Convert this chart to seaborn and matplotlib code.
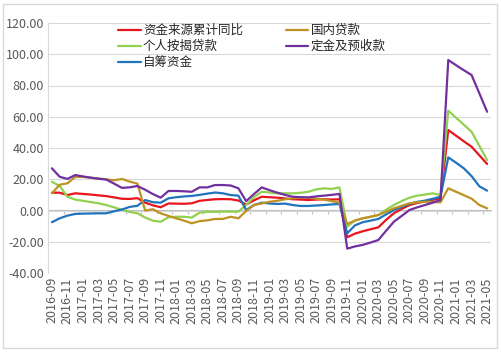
import numpy as np
import pandas as pd
import matplotlib
matplotlib.use('Agg')
import matplotlib.pyplot as plt
from matplotlib.patches import Rectangle
from matplotlib.ticker import FormatStrFormatter
import seaborn as sns

# monthly periods 2016-09 .. 2021-05
months = pd.period_range('2016-09', '2021-05', freq='M').strftime('%Y-%m').tolist()

# 资金来源累计同比 (%)
total_yoy = [11.4, 11.4, 9.9, 11.0, 10.6, 10.2, 9.7, 9.2, 8.4, 7.5, 7.4, 7.9,
             5.0, 3.3, 2.1, 4.5, 4.4, 4.3, 4.6, 6.2, 6.7, 7.2, 7.3, 7.2,
             6.4, 3.8, 6.5, 8.8, 8.5, 8.2, 7.7, 7.2, 7.0, 6.7, 7.0, 7.2,
             7.0, 7.2, -17.1, -14.8, -13.3, -12.0, -10.8, -6.0, -1.8, 1.0, 3.5, 4.8,
             5.8, 6.8, 7.8, 51.5, 47.9, 44.3, 40.8, 35.3, 29.8]
# 国内贷款
domestic_loan = [11.0, 16.5, 17.4, 21.5, 21.5, 21.0, 20.5, 20.0, 19.3, 20.2, 18.5, 17.2,
                 0.0, 0.8, -1.8, -3.5, -5.0, -6.5, -8.2, -6.8, -6.3, -5.4, -5.4, -4.0,
                 -5.0, -0.3, 3.5, 4.5, 5.6, 6.2, 7.2, 7.8, 8.2, 8.2, 7.5, 7.0,
                 6.0, 5.0, -8.6, -6.5, -5.0, -4.0, -2.9, -0.8, 1.4, 3.0, 4.6, 5.2,
                 5.6, 5.5, 5.2, 14.2, 12.0, 9.8, 7.6, 3.5, 1.4]
# 个人按揭贷款
mortgage = [18.4, 15.7, 8.8, 7.0, 6.2, 5.4, 4.6, 3.5, 2.0, 0.5, -0.9, -1.8,
            -4.5, -6.5, -7.2, -4.3, -4.0, -4.0, -4.5, -1.4, -0.8, -0.9, -0.7, -0.7,
            -0.7, 3.5, 8.5, 12.0, 11.5, 11.0, 11.0, 11.0, 11.3, 12.0, 13.5, 14.2,
            13.8, 14.8, -10.4, -6.3, -5.0, -4.0, -2.9, 0.5, 3.5, 6.0, 8.2, 9.5,
            10.2, 11.0, 9.9, 63.9, 59.4, 54.9, 50.4, 41.4, 32.3]
# 定金及预收款
deposits = [27.0, 21.6, 20.2, 22.7, 21.8, 21.0, 20.3, 19.8, 17.2, 14.5, 14.8, 15.7,
            13.3, 10.5, 8.2, 12.5, 12.5, 12.3, 12.0, 14.8, 14.8, 16.3, 16.3, 16.0,
            14.2, 6.0, 10.5, 14.8, 13.0, 11.4, 10.0, 8.8, 8.5, 8.4, 9.0, 9.5,
            10.0, 10.6, -24.4, -23.0, -22.0, -20.5, -18.9, -13.0, -7.2, -3.5, 0.3, 2.0,
            3.5, 5.0, 6.7, 96.3, 93.0, 89.8, 86.7, 75.0, 63.2]
# 自筹资金
self_raised = [-7.5, -5.0, -3.3, -2.2, -2.0, -1.9, -1.8, -1.8, -0.5, 0.6, 2.3, 3.0,
               6.7, 5.3, 5.0, 7.8, 8.5, 9.0, 9.3, 10.0, 10.8, 11.5, 11.0, 9.9,
               9.5, 0.3, 3.5, 5.0, 4.5, 4.2, 4.4, 3.5, 2.9, 2.9, 3.2, 3.5,
               3.9, 4.2, -14.6, -9.5, -7.5, -6.5, -5.4, -2.5, 0.3, 2.3, 4.2, 5.5,
               6.3, 7.5, 8.8, 34.0, 30.6, 27.0, 22.0, 15.5, 12.7]

series = {'资金来源累计同比': total_yoy, '个人按揭贷款': mortgage, '自筹资金': self_raised,
          '国内贷款': domestic_loan, '定金及预收款': deposits}
colors = {'资金来源累计同比': '#E8141E', '个人按揭贷款': '#92D050', '自筹资金': '#1F74BC',
          '国内贷款': '#BF9224', '定金及预收款': '#7030A0'}

df = pd.DataFrame({'month': months, **series}).melt(id_vars='month', var_name='item', value_name='yoy')

sns.set_style('white')
plt.rcParams['font.family'] = ['Noto Sans CJK SC', 'DejaVu Sans']

fig = plt.figure(figsize=(5.01, 3.52), dpi=100)
ax = fig.add_axes([48/501, 1-273/352, (491-48)/501, (273-23)/352])

sns.lineplot(data=df, x='month', y='yoy', hue='item', hue_order=list(series.keys()),
             palette=colors, linewidth=1.6, ax=ax, sort=False)

ax.set_ylim(-40, 120)
ax.set_yticks(np.arange(-40, 121, 20))
ax.yaxis.set_major_formatter(FormatStrFormatter('%.2f'))
ax.set_xlim(-0.5, len(months) - 0.5)
ax.set_xticks(range(0, len(months), 2))
ax.set_xticklabels(months[::2], rotation=90)
ax.tick_params(axis='both', colors='#595959', labelsize=9, length=0, pad=3)
ax.set_xlabel('')
ax.set_ylabel('')
ax.grid(axis='y', color='#D9D9D9', linewidth=0.8)
ax.set_axisbelow(True)
for s in ['top', 'right', 'bottom']:
    ax.spines[s].set_visible(False)
ax.spines['left'].set_color('#D9D9D9')
ax.spines['left'].set_linewidth(0.8)

# category axis crossing at zero with small tick marks
sec = ax.secondary_xaxis(0.25)
sec.set_xticks(np.arange(-0.5, len(months), 2))
sec.tick_params(length=3, color='#BFBFBF', labelbottom=False)
sec.spines['bottom'].set_color('#BFBFBF')
sec.spines['bottom'].set_linewidth(0.8)

ax.legend(loc='upper left', bbox_to_anchor=(118/501, 1-24/352), bbox_transform=fig.transFigure,
          ncol=2, frameon=False, fontsize=9, handlelength=1.8, handletextpad=0.2,
          columnspacing=3.4, labelspacing=0.25, borderpad=0, borderaxespad=0)

fig.patches.append(Rectangle((3/501, 4/352), 494/501, 344/352, transform=fig.transFigure,
                             fill=False, edgecolor='#D9D9D9', linewidth=1))

fig.savefig('out.png', dpi=100)
